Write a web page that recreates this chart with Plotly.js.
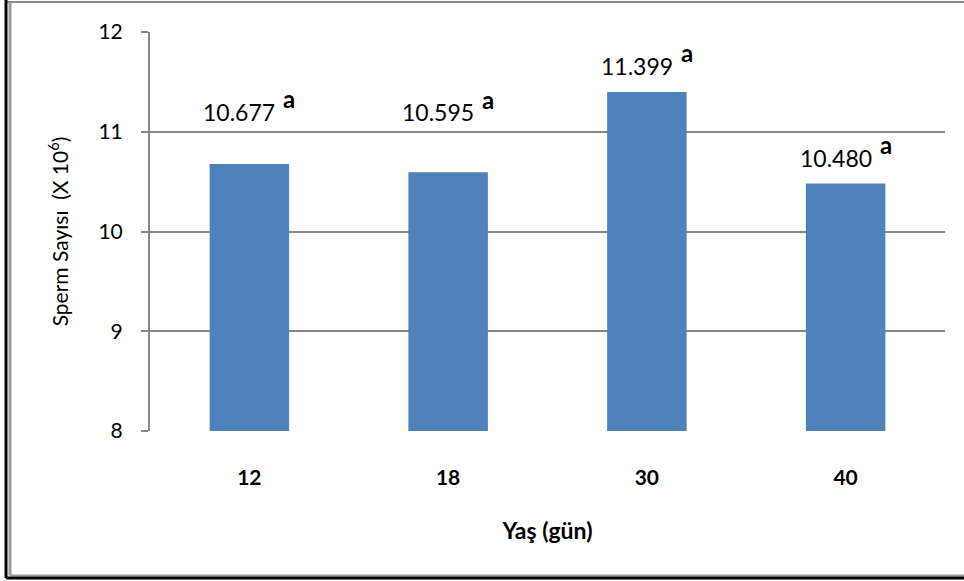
<!DOCTYPE html>
<html>
<head>
<meta charset="utf-8">
<script src="https://cdn.plot.ly/plotly-3.0.1.min.js"></script>
<style>html,body{margin:0;padding:0;background:#fff;}#chart{width:964px;height:581px;}</style>
</head>
<body>
<div id="chart"></div>
<script>
// Data
const categories = ["12", "18", "30", "40"];
const spermValues = [10.677, 10.595, 11.399, 10.480];
const valueLabels = ["10.677", "10.595", "11.399", "10.480"];
const groupLetters = ["a", "a", "a", "a"];
const yTickVals = [8, 9, 10, 11, 12];

// Label offsets (pixels above bar top) - style only
const labelShift = [52, 60, 26, 26];

const FONT = "Lato, 'Open Sans', sans-serif";

const trace = {
  type: "bar",
  x: categories,
  y: spermValues,
  marker: { color: "#4F81BD" },
  width: 0.4,
  hoverinfo: "skip"
};

const annotations = [];
categories.forEach((c, i) => {
  annotations.push({
    x: i, y: spermValues[i], xref: "x", yref: "y",
    text: valueLabels[i],
    showarrow: false,
    yshift: labelShift[i],
    xshift: -10,
    font: { family: FONT, size: 23, color: "#000" }
  });
  annotations.push({
    x: i, y: spermValues[i], xref: "x", yref: "y",
    text: "<b>" + groupLetters[i] + "</b>",
    showarrow: false,
    yshift: labelShift[i] + 13,
    xshift: 40,
    font: { family: FONT, size: 24, color: "#000" }
  });
});

const layout = {
  width: 964, height: 581,
  margin: { l: 150, r: 19, t: 32, b: 150 },
  paper_bgcolor: "#fff", plot_bgcolor: "#fff",
  showlegend: false,
  font: { family: FONT, color: "#000" },
  xaxis: {
    type: "category",
    range: [-0.5, 3.5],
    showgrid: false,
    showline: false,
    ticks: "",
    ticklabelstandoff: 32,
    tickfont: { family: FONT, size: 21, weight: "bold", color: "#000" },
    title: { text: "<b>Yaş (gün)</b>", font: { family: FONT, size: 23, color: "#000" }, standoff: 34 }
  },
  yaxis: {
    range: [8, 12],
    tickvals: yTickVals,
    showgrid: true,
    gridcolor: "#868686",
    gridwidth: 2,
    showline: true,
    linecolor: "#868686",
    linewidth: 2,
    ticks: "outside",
    ticklen: 7,
    tickcolor: "#868686",
    tickwidth: 2,
    ticklabelstandoff: 14,
    tickfont: { family: FONT, size: 21, color: "#000" },
    zeroline: false,
    title: { text: "Sperm Sayısı  (X 10<sup>6</sup>)", font: { family: FONT, size: 21, color: "#000" }, standoff: 24 }
  },
  annotations: annotations,
  shapes: [
    { type: "line", xref: "paper", yref: "paper", x0: -0.1811, x1: 1.1, y0: 1.0752, y1: 1.0752, line: { color: "#888", width: 2 } },
    { type: "line", xref: "paper", yref: "paper", x0: -0.1761, x1: -0.1761, y0: -0.362, y1: 1.0752, line: { color: "#999", width: 3 } },
    { type: "line", xref: "paper", yref: "paper", x0: -0.1761, x1: 1.1, y0: -0.362, y1: -0.362, line: { color: "#999", width: 2 } },
    { type: "line", xref: "paper", yref: "paper", x0: -0.1811, x1: -0.1811, y0: -0.3684, y1: 1.08, line: { color: "#000", width: 3 } },
    { type: "line", xref: "paper", yref: "paper", x0: -0.1811, x1: 1.1, y0: -0.3684, y1: -0.3684, line: { color: "#000", width: 3 } }
  ]
};

Plotly.newPlot("chart", [trace], layout, { staticPlot: true, displayModeBar: false });
</script>
</body>
</html>
